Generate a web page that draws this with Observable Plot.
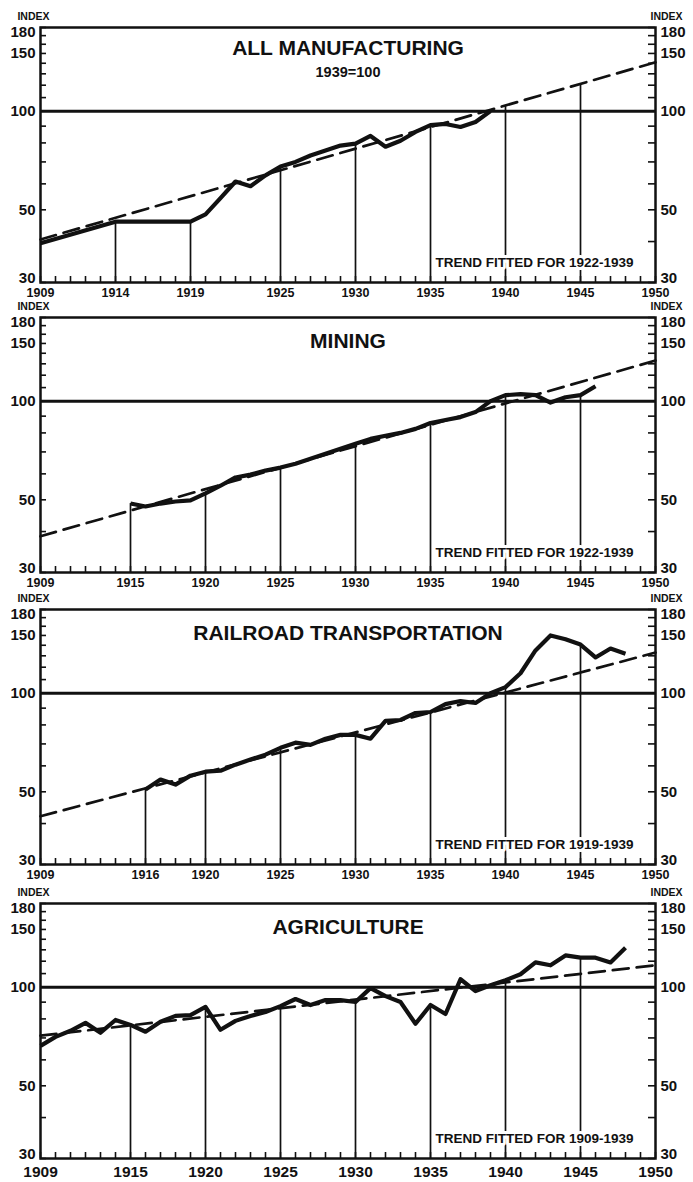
<!DOCTYPE html>
<html><head><meta charset="utf-8">
<script src="https://cdn.jsdelivr.net/npm/d3@7"></script>
<script src="https://cdn.jsdelivr.net/npm/@observablehq/plot@0.6"></script>
<style>
body{margin:0;background:#fff;}
#chart svg{display:block;overflow:visible;}
</style></head><body><div id="chart"></div>
<script>
// ---- data ----
const yearDomain = [1909, 1950];
const yTickValues = [30,40,50,60,70,80,90,100,110,120,130,140,150,160,170,180];
const yTickLabels = [50, 100, 150];
const yTopLabel = [180];
const yBottomLabel = [30];

const mfgYears  = [1909,1914,1919,1920,1921,1922,1923,1924,1925,1926,1927,1928,1929,1930,1931,1932,1933,1934,1935,1936,1937,1938,1939];
const mfgValues = [39.5,46,46,48.4,54.3,61,59,63.7,67.8,70,73.2,75.8,78.5,79.6,84,77.9,81.2,86.4,90.7,91.4,89.5,92.7,100];
const mfgTrendYears = [1909, 1950];
const mfgTrendValues = [40.6, 141];
const mfgDropYears = [1914,1919,1925,1930,1935,1940,1945];
const mfgXLabels = [1909,1914,1919,1925,1930,1935,1940,1945,1950];

const minYears  = [1915,1916,1917,1918,1919,1920,1921,1922,1923,1924,1925,1926,1927,1928,1929,1930,1931,1932,1933,1934,1935,1936,1937,1938,1939,1940,1941,1942,1943,1944,1945,1946];
const minValues = [48.7,47.7,48.7,49.4,49.8,52.3,55.2,58.5,59.7,61.4,62.7,64.4,66.7,69.1,71.6,74.1,76.7,78.4,80,82.3,85.8,87.6,89.4,92.6,100,104.3,105,104.3,99,102.8,104.3,111];
const minTrendYears = [1909, 1950];
const minTrendValues = [38.7, 133];
const minDropYears = [1915,1920,1925,1930,1935,1940,1945];
const minXLabels = [1909,1915,1920,1925,1930,1935,1940,1945,1950];

const rrYears  = [1916,1917,1918,1919,1920,1921,1922,1923,1924,1925,1926,1927,1928,1929,1930,1931,1932,1933,1934,1935,1936,1937,1938,1939,1940,1941,1942,1943,1944,1945,1946,1947,1948];
const rrValues = [50.8,54.5,52.6,56,57.6,58,60.5,62.7,64.9,68.1,70.6,69.5,72.6,74.6,74.6,72.6,82.3,82.8,87,87.6,92.6,94.6,93.3,100,104.3,115,135,150,146,140.7,128.5,136.8,132];
const rrTrendYears = [1909, 1950];
const rrTrendValues = [42.1, 133];
const rrDropYears = [1916,1920,1925,1930,1935,1940,1945];
const rrXLabels = [1909,1916,1920,1925,1930,1935,1940,1945,1950];

const agYears  = [1909,1910,1911,1912,1913,1914,1915,1916,1917,1918,1919,1920,1921,1922,1923,1924,1925,1926,1927,1928,1929,1930,1931,1932,1933,1934,1935,1936,1937,1938,1939,1940,1941,1942,1943,1944,1945,1946,1947,1948];
const agValues = [66.2,70.5,73.6,77.8,72.6,79.4,76.7,73.1,78.4,81.7,82.2,87,74.1,78.9,81.7,84,87.5,92,88.2,91.3,91.3,90.1,99.3,93.9,90.1,77.3,88.2,82.8,105.7,97.3,101.4,105,109.5,119,116.6,125,123,123,119,132];
const agTrendYears = [1909, 1950];
const agTrendValues = [71.1, 116.6];
const agDropYears = [1915,1920,1925,1930,1935,1940,1945];
const agXLabels = [1909,1915,1920,1925,1930,1935,1940,1945,1950];

const FONT = "'Liberation Sans', Arial, sans-serif";
const INK = "#111";

function panel(p) {
  const W = 693, ml = 40, mr = 38;
  const innerW = W - ml - mr;
  const innerH = p.h - p.mt - p.mb;
  const series = p.years.map((y, i) => ({year: y, v: p.values[i]}));
  const trend = p.trendYears.map((y, i) => ({year: y, v: p.trendValues[i]}));
  const l0 = Math.log(p.trendValues[0]), l1 = Math.log(p.trendValues[1]);
  const tv = yr => Math.exp(l0 + (yr - p.trendYears[0]) / (p.trendYears[1] - p.trendYears[0]) * (l1 - l0));
  const drops = p.dropYears.map(yr => {
    const i = p.years.indexOf(yr);
    return {year: yr, top: i >= 0 ? p.values[i] : tv(yr)};
  });
  const allYears = d3.range(yearDomain[0], yearDomain[1] + 1);
  const yl = {fontSize: 15, fontWeight: "bold", fill: INK, lineAnchor: "middle"};
  const L = {frameAnchor: "left", textAnchor: "end", dx: -5, ...yl};
  const R = {frameAnchor: "right", textAnchor: "start", dx: 5, ...yl};
  const marks = [
    Plot.ruleY([100], {stroke: INK, strokeWidth: 3}),
    Plot.ruleX(allYears, {x: d => d, insetTop: innerH - 6, stroke: INK, strokeWidth: 1.6}),
    Plot.ruleY(yTickValues, {y: d => d, insetRight: innerW - 6, stroke: INK, strokeWidth: 1.6}),
    Plot.ruleY(yTickValues, {y: d => d, insetLeft: innerW - 7, stroke: INK, strokeWidth: 1.6}),
    Plot.ruleX(drops, {x: "year", y1: 30, y2: "top", stroke: INK, strokeWidth: 1.7}),
    Plot.line(trend, {x: "year", y: "v", stroke: INK, strokeWidth: 2.7, strokeDasharray: "16,8"}),
    Plot.line(series, {x: "year", y: "v", stroke: INK, strokeWidth: 4.2, strokeLinejoin: "round", strokeLinecap: "butt"}),
    Plot.frame({stroke: INK, strokeWidth: 2.5}),
    Plot.text(p.xLabels, {x: d => d, text: d => String(d), frameAnchor: "bottom", lineAnchor: "middle", dy: p.xdy, fontSize: p.xfs, fontWeight: "bold", fill: INK, ariaLabel: "xlabel"}),
    Plot.text(yTickLabels, {y: d => d, text: d => String(d), ...L}),
    Plot.text(yTopLabel, {y: d => d, text: d => String(d), ...L, dy: 5}),
    Plot.text(yBottomLabel, {y: d => d, text: d => String(d), ...L, dy: -4}),
    Plot.text(yTickLabels, {y: d => d, text: d => String(d), ...R}),
    Plot.text(yTopLabel, {y: d => d, text: d => String(d), ...R, dy: 5}),
    Plot.text(yBottomLabel, {y: d => d, text: d => String(d), ...R, dy: -4}),
    Plot.text(["INDEX"], {frameAnchor: "top-left", lineAnchor: "middle", textAnchor: "end", dx: 9, dy: -11, fontSize: 10.5, fontWeight: "bold", fill: INK, ariaLabel: "index"}),
    Plot.text(["INDEX"], {frameAnchor: "top-right", lineAnchor: "middle", textAnchor: "start", dx: -5, dy: -11, fontSize: 10.5, fontWeight: "bold", fill: INK, ariaLabel: "index"}),
    Plot.text([p.title], {frameAnchor: "top", lineAnchor: "middle", dy: p.tdy, fontSize: 21, fontWeight: "bold", fill: INK, ariaLabel: "title"}),
    Plot.text([p.note], {frameAnchor: "bottom-right", lineAnchor: "middle", textAnchor: "end", dx: -22, dy: -20, fontSize: 13.5, fontWeight: "bold", fill: INK, stroke: "white", strokeWidth: 6, paintOrder: "stroke", ariaLabel: "note"})
  ];
  if (p.subtitle) marks.push(Plot.text([p.subtitle], {frameAnchor: "top", lineAnchor: "middle", dy: 45, fontSize: 14.5, fontWeight: "bold", fill: INK, ariaLabel: "sub"}));
  const svg = Plot.plot({
    width: W, height: p.h,
    marginLeft: ml, marginRight: mr, marginTop: p.mt, marginBottom: p.mb,
    x: {domain: yearDomain, axis: null},
    y: {type: "log", domain: [30, 180], axis: null},
    style: {background: "transparent", overflow: "visible", fontFamily: FONT, color: INK},
    marks
  });
  const s = d3.select(svg);
  s.selectAll("g[aria-label=title] text").attr("letter-spacing", p.ls);
  s.selectAll("g[aria-label=index] text").attr("letter-spacing", 1.6);
  s.selectAll("g[aria-label=note] text").attr("letter-spacing", 1);
  s.selectAll("g[aria-label=sub] text").attr("letter-spacing", 1.2);
  s.selectAll("g[aria-label=xlabel] text").attr("letter-spacing", -0.3);
  return svg;
}

const chart = document.getElementById("chart");
chart.append(panel({h: 297, mt: 27, mb: 15, years: mfgYears, values: mfgValues, trendYears: mfgTrendYears, trendValues: mfgTrendValues, dropYears: mfgDropYears, xLabels: mfgXLabels, xdy: 10, xfs: 12.5, title: "ALL MANUFACTURING", subtitle: "1939=100", tdy: 21, ls: 0.5, note: "TREND FITTED FOR 1922-1939"}));
chart.append(panel({h: 293, mt: 20, mb: 18, years: minYears, values: minValues, trendYears: minTrendYears, trendValues: minTrendValues, dropYears: minDropYears, xLabels: minXLabels, xdy: 10, xfs: 12.5, title: "MINING", tdy: 24, ls: 1, note: "TREND FITTED FOR 1922-1939"}));
chart.append(panel({h: 293, mt: 19, mb: 19, years: rrYears, values: rrValues, trendYears: rrTrendYears, trendValues: rrTrendValues, dropYears: rrDropYears, xLabels: rrXLabels, xdy: 10, xfs: 12.5, title: "RAILROAD TRANSPORTATION", tdy: 24, ls: 1.3, note: "TREND FITTED FOR 1919-1939"}));
chart.append(panel({h: 299, mt: 20, mb: 24, years: agYears, values: agValues, trendYears: agTrendYears, trendValues: agTrendValues, dropYears: agDropYears, xLabels: agXLabels, xdy: 14, xfs: 15.5, title: "AGRICULTURE", tdy: 24, ls: 1, note: "TREND FITTED FOR 1909-1939"}));
</script></body></html>
